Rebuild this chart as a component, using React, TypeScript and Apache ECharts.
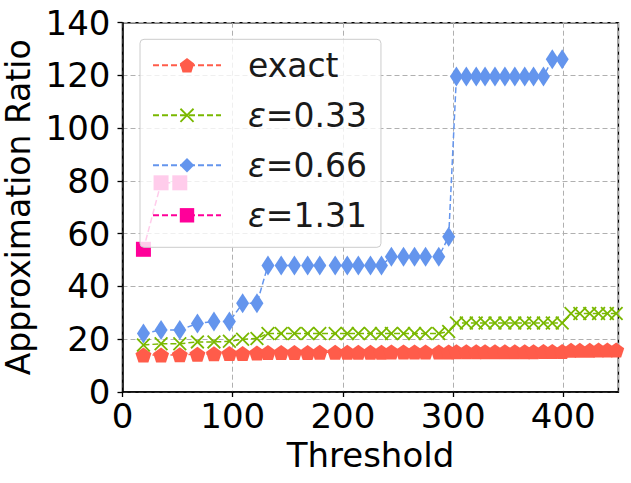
import React, { useEffect, useRef } from "react";
import * as echarts from "echarts";

const thresholds = [19, 35, 52, 68, 83, 97, 109, 122, 132, 144, 156, 168, 179, 193, 204, 214, 225, 235, 244, 255, 265, 275, 287, 296, 303, 312, 321, 329, 338, 347, 356, 365, 373, 382, 390, 399, 407, 415, 424, 432, 440, 448];

const exactValues = [14.0, 14.0, 14.1, 14.3, 14.5, 14.6, 14.6, 14.8, 15.0, 15.0, 15.0, 15.0, 15.1, 15.1, 15.1, 15.1, 15.1, 15.1, 15.2, 15.2, 15.2, 15.2, 15.2, 15.2, 15.3, 15.3, 15.3, 15.3, 15.3, 15.3, 15.3, 15.3, 15.3, 15.4, 15.4, 15.4, 15.8, 15.8, 15.8, 15.9, 15.9, 15.9];

const eps033Values = [17.8, 18.3, 18.3, 19.0, 19.0, 19.2, 20.0, 20.3, 22.2, 22.2, 22.2, 22.2, 22.2, 22.2, 22.2, 22.2, 22.2, 22.2, 22.2, 22.2, 22.2, 22.2, 22.2, 22.9, 26.2, 26.2, 26.2, 26.2, 26.2, 26.2, 26.2, 26.2, 26.2, 26.2, 26.2, 26.2, 29.8, 29.8, 29.8, 29.8, 29.8, 29.8];

const eps066Values = [22.2, 23.5, 23.5, 26.0, 26.7, 26.7, 33.6, 33.6, 48.0, 48.0, 48.0, 48.0, 48.0, 48.0, 48.0, 48.0, 48.0, 48.0, 51.3, 51.3, 51.3, 51.3, 51.3, 58.9, 119.6, 119.6, 119.6, 119.6, 119.6, 119.6, 119.6, 119.6, 119.6, 119.6, 126.1, 126.1];

const eps131Values = [54.1, 79.3, 79.3];

const seriesNames = ["exact", "ε=0.33", "ε=0.66", "ε=1.31"];
const seriesColors = ["#ff5c4a", "#7ab800", "#6495ed", "#ff0099"];

const pentagon = "path://M50,0L97.6,34.5L79.4,90.5L20.6,90.5L2.4,34.5Z";
const cross = "path://M0,9L9,0L50,41L91,0L100,9L59,50L100,91L91,100L50,59L9,100L0,91L41,50Z";

function pairs(vals: number[]) {
  return vals.map((v, i) => [thresholds[i], v]);
}

export default function App() {
  const ref = useRef<HTMLDivElement>(null);
  useEffect(() => {
    const chart = echarts.init(ref.current!, null, { renderer: "svg" });
    const font = "DejaVu Sans";
    const mk = (idx: number, vals: number[], symbol: string, size: any) => ({
      name: seriesNames[idx],
      type: "line",
      data: pairs(vals),
      symbol,
      symbolSize: size,
      lineStyle: { color: seriesColors[idx], width: 1.5, type: [6, 3] },
      itemStyle: { color: seriesColors[idx] },
      clip: true,
    });
    const txt = { fontSize: 33, fontFamily: font, color: "#1a1a1a", lineHeight: 40 };
    chart.setOption({
      animation: false,
      backgroundColor: "#ffffff",
      grid: {
        left: 122.5,
        right: 12.6,
        top: 22.7,
        bottom: 91,
        show: true,
        borderColor: "#000",
        borderWidth: 1.5,
        containLabel: false,
        outerBoundsMode: "none",
      },
      xAxis: {
        type: "value",
        min: 0,
        max: 450,
        interval: 100,
        name: "Threshold",
        nameLocation: "middle",
        nameGap: 42,
        nameTextStyle: { fontSize: 34, fontFamily: font, color: "#000" },
        axisLine: { lineStyle: { color: "#000", width: 1.5 } },
        axisTick: { show: true, length: 5, lineStyle: { color: "#000", width: 1.3 } },
        axisLabel: { fontSize: 34, fontFamily: font, color: "#000", margin: 7, showMaxLabel: false },
        splitLine: { show: true, lineStyle: { color: "#b0b0b0", width: 1, type: [5, 3] } },
      },
      yAxis: {
        type: "value",
        min: 0,
        max: 140,
        interval: 20,
        name: "Approximation Ratio",
        nameLocation: "middle",
        nameGap: 76,
        nameTextStyle: { fontSize: 33, fontFamily: font, color: "#000" },
        axisLine: { lineStyle: { color: "#000", width: 1.5 } },
        axisTick: { show: true, length: 5, lineStyle: { color: "#000", width: 1.3 } },
        axisLabel: { fontSize: 34, fontFamily: font, color: "#000", margin: 12 },
        splitLine: { show: true, lineStyle: { color: "#b0b0b0", width: 1, type: [5, 3] } },
      },
      legend: {
        orient: "vertical",
        left: 140,
        top: 39.3,
        padding: [6, 14, 12, 12],
        itemGap: 10,
        itemWidth: 68,
        itemHeight: 18,
        backgroundColor: "rgba(255,255,255,0.8)",
        borderColor: "#cccccc",
        borderWidth: 1,
        borderRadius: 4,
        data: seriesNames,
        formatter: (name: string) =>
          name.startsWith("ε") ? `{e|ε}{n|${name.slice(1)}}` : `{n|${name}}`,
        textStyle: {
          ...txt,
          padding: [0, 0, 0, 22],
          rich: {
            e: { ...txt, fontStyle: "italic" },
            n: { ...txt },
          },
        },
      },
      series: [
        mk(0, exactValues, pentagon, [16, 15]),
        mk(1, eps033Values, cross, 14),
        mk(2, eps066Values, "diamond", [13, 20]),
        mk(3, eps131Values, "rect", 15),
      ],
    });
    return () => chart.dispose();
  }, []);
  return (
    <div
      ref={ref}
      style={{ position: "absolute", left: 0, top: 0, width: 631, height: 483, background: "#fff" }}
    />
  );
}
